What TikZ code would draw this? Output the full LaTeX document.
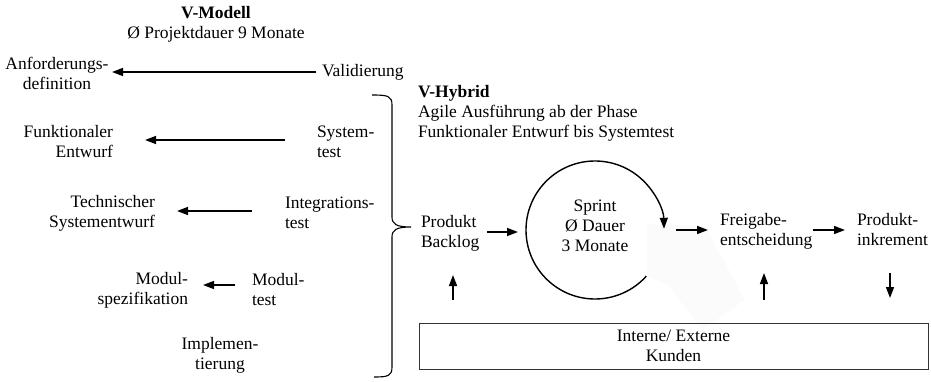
\documentclass[tikz,border=0pt]{standalone}
\usepackage{fontspec}
\setmainfont{Liberation Serif}
\usetikzlibrary{arrows.meta,calc}
\begin{document}
\begin{tikzpicture}[x=1pt,y=1pt,
  every node/.style={inner sep=0pt,outer sep=0pt,font=\fontsize{17.5}{20}\selectfont},
  arr/.style={line width=1.5pt,-{Triangle[length=11pt,width=8pt]}},
  lbl/.style={align=left,anchor=west},
  rbl/.style={align=right,anchor=east},
  cbl/.style={align=center}]
\useasboundingbox (0,0) rectangle (931,-382);
% faint background patch
\fill[black!1.5] (647,-224) -- (705,-226) -- (745,-300) -- (702,-330) -- (668,-284) -- (647,-277) -- cycle;
% V-Modell
\node[cbl] (vmtitle) at (216,-24) {{\bfseries V-Modell}\\Ø Projektdauer 9 Monate};
\node[cbl] (anf) at (57,-73) {Anforderungs-\\definition};
\node[lbl] (valid) at (322,-72) {Validierung};
\node[rbl] (funk) at (113,-142) {Funktionaler\\Entwurf};
\node[lbl] (syst) at (317,-142) {System-\\test};
\node[rbl] (tech) at (155,-213) {Technischer\\Systementwurf};
\node[lbl] (integ) at (285,-213) {Integrations-\\test};
\node[rbl] (modspez) at (188,-290) {Modul-\\spezifikation};
\node[lbl] (modtest) at (252,-290) {Modul-\\test};
\node[cbl] (impl) at (220,-355) {Implemen-\\tierung};
\draw[arr] (valid.west -| 316,0) -- (valid.west -| 112,0);
\draw[arr] ([xshift=-32pt]syst.west |- 0,-140) -- ([xshift=32pt]funk.east |- 0,-140);
\draw[arr] ([xshift=-33pt]integ.west |- 0,-211) -- ([xshift=22pt]tech.east |- 0,-211);
\draw[arr] ([xshift=-17pt]modtest.west |- 0,-285) -- ([xshift=15pt]modspez.east |- 0,-285);
% brace
\draw[line width=1.1pt] (372,-95) .. controls (388,-95) and (392,-96) .. (392,-105) -- (392,-217)
  .. controls (392,-224) and (396,-227) .. (411,-227)
  .. controls (396,-227) and (392,-230) .. (392,-237) -- (392,-367)
  .. controls (392,-376) and (388,-377) .. (374,-377);
% V-Hybrid
\node[lbl,align=left] (hyb) at (418,-113) {{\bfseries V-Hybrid}\\Agile Ausführung ab der Phase\\Funktionaler Entwurf bis Systemtest};
\node[lbl] (backlog) at (421,-233) {Produkt\\Backlog};
\node[circle,minimum size=138pt] (sprint) at (595,-230) {};
\node[cbl] (sprinttxt) at (595,-226) {Sprint\\Ø Dauer\\3 Monate};
\node[lbl] (frei) at (720,-231) {Freigabe-\\entscheidung};
\node[lbl] (inkr) at (857,-230) {Produkt-\\inkrement};
\node[draw=black!80,line width=1pt,minimum width=509pt,minimum height=46pt,align=center] (kunden) at (673.5,-346) {Interne/ Externe\\Kunden};
\draw[arr] ([xshift=8pt]backlog.east |- 0,-232) -- ([xshift=-8pt]sprint.west |- 0,-232);
\draw[line width=1.4pt,-{Triangle[length=11pt,width=8pt]}] (sprint.-42) arc[start angle=-42, end angle=-359, radius=69pt];
\draw[arr] ([xshift=12pt]sprint.east |- 0,-230) -- ([xshift=-12pt]frei.west |- 0,-230);
\draw[arr] ([xshift=1pt]frei.east |- 0,-230) -- ([xshift=-12pt]inkr.west |- 0,-230);
\draw[arr] ([yshift=23pt]kunden.north -| 453,0) -- ([yshift=48pt]kunden.north -| 453,0);
\draw[arr] ([yshift=23pt]kunden.north -| 764,0) -- ([yshift=50pt]kunden.north -| 764,0);
\draw[arr] (inkr.south -| 890,0) ++(0,-27) coordinate (d1) -- ([yshift=25pt]kunden.north -| 890,0);
\end{tikzpicture}
\end{document}
